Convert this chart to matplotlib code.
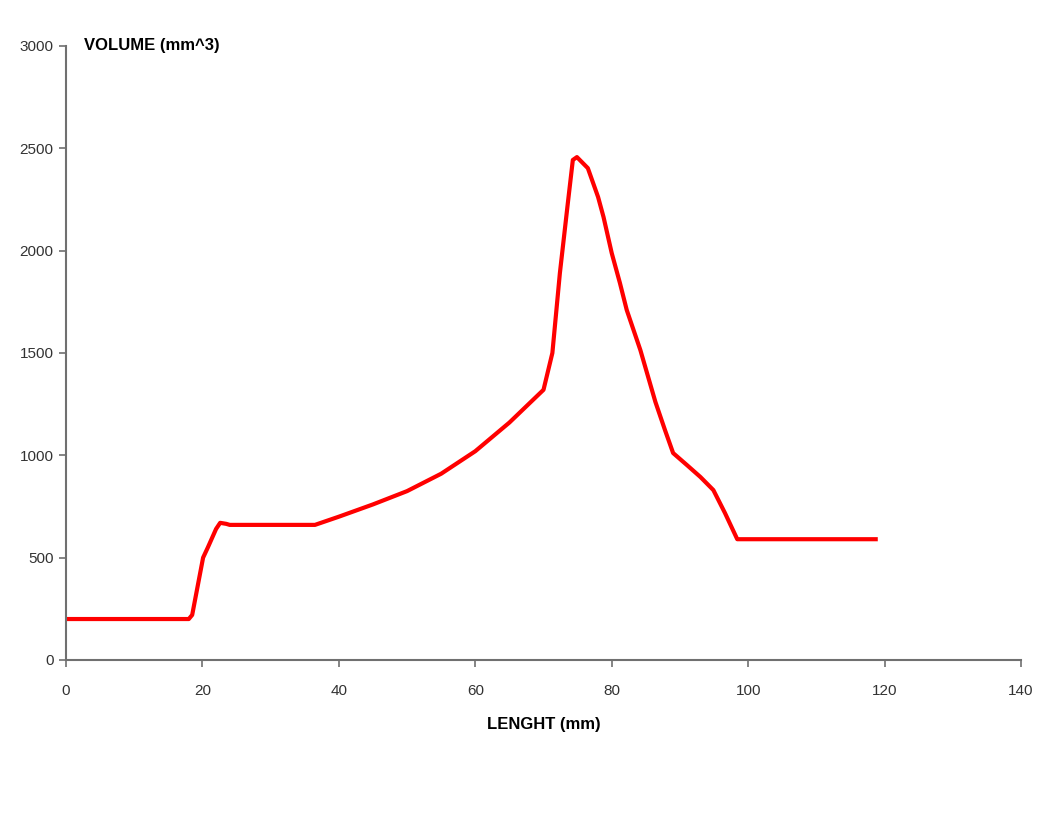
import matplotlib
matplotlib.use("Agg")
import matplotlib.pyplot as plt

# values
length_mm = [0, 18, 18.5, 19.3, 20.1, 20.8, 22, 22.6, 23.5, 24, 36.5,
             40, 45, 50, 55, 60, 65, 70, 71.3, 72.4, 73.5, 74.3, 74.9,
             76.5, 78, 78.8, 80, 81.2, 82.2, 84.2, 86.4, 87.8, 89, 91,
             93, 94.9, 96.6, 98.4, 119]
volume_mm3 = [200, 200, 220, 360, 500, 550, 640, 670, 665, 660, 660,
              700, 760, 825, 910, 1020, 1160, 1320, 1500, 1890, 2213, 2443, 2457,
              2403, 2262, 2164, 1988, 1842, 1710, 1514, 1261, 1124, 1011, 953,
              894, 830, 718, 590, 590]

plt.rcParams['font.family'] = ['Liberation Sans', 'DejaVu Sans']

fig = plt.figure(figsize=(10.44, 8.18), dpi=100)
ax = fig.add_axes([0.0632, 0.1932, 0.9148, 0.7506])

ax.plot(length_mm, volume_mm3, color='#ff0000', linewidth=3,
        solid_joinstyle='round', solid_capstyle='butt')

ax.set_xlim(0, 140)
ax.set_ylim(0, 3000)
ax.set_xticks(range(0, 141, 20))
ax.set_yticks(range(0, 3001, 500))

for side in ['top', 'right']:
    ax.spines[side].set_visible(False)
for side in ['left', 'bottom']:
    ax.spines[side].set_color('#707070')
    ax.spines[side].set_linewidth(1.5)
ax.tick_params(colors='#707070', labelcolor='#333333', labelsize=11, length=5, width=1.2)
ax.tick_params(axis='x', pad=12)
ax.tick_params(axis='y', pad=4)

ax.set_xlabel('LENGHT (mm)', fontsize=12, fontweight='bold', labelpad=14)
ax.text(0.019, 1.0, 'VOLUME (mm^3)', transform=ax.transAxes, fontsize=12,
        fontweight='bold', va='center', ha='left')

fig.savefig('out.png', dpi=100)
